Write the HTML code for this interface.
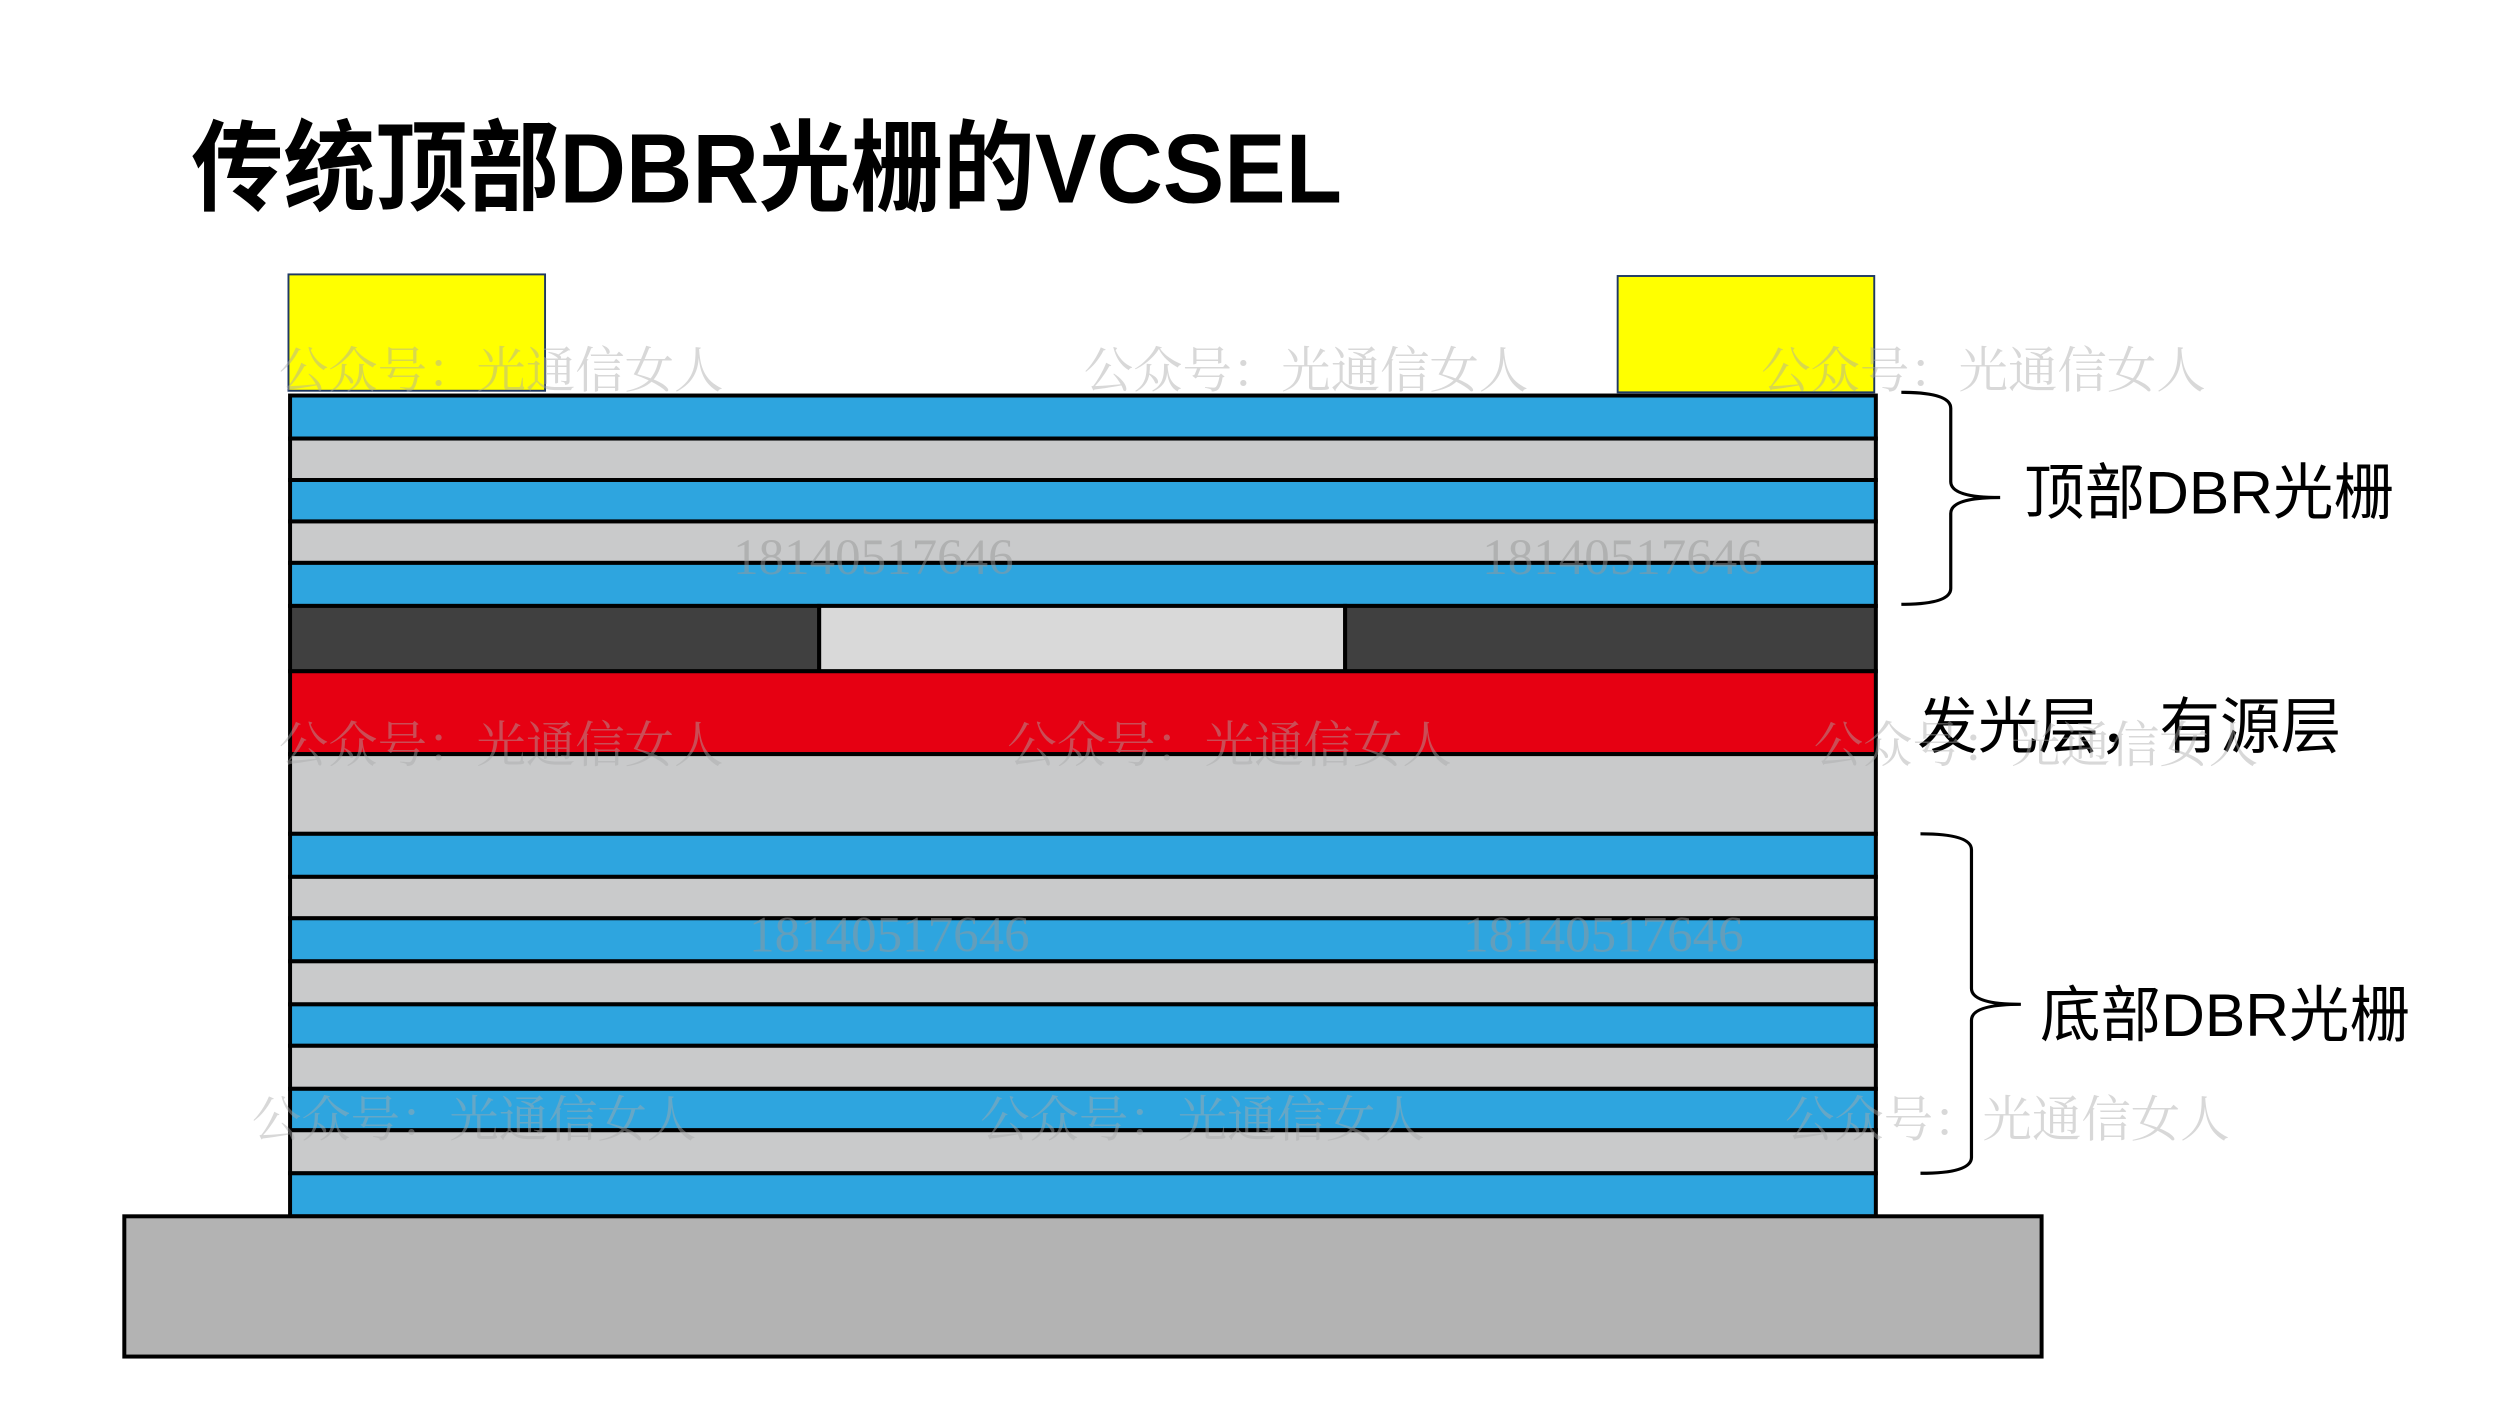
<!DOCTYPE html>
<html><head><meta charset="utf-8"><style>
html,body{margin:0;padding:0;background:#fff;}
svg{display:block;}
</style></head><body>
<svg width="2500" height="1406" viewBox="0 0 1560 877" xmlns="http://www.w3.org/2000/svg">
<rect width="1560" height="877" fill="#fff"/>
<g transform="scale(0.9945)">
<text x="120" y="127" font-family="'Liberation Sans','Noto Sans CJK SC',sans-serif" font-weight="bold" font-size="62" textLength="722" lengthAdjust="spacingAndGlyphs" fill="#000">传统顶部DBR光栅的VCSEL</text>
<g stroke="#1f3864" stroke-width="1.2" fill="#ffff00">
<rect x="181" y="172" width="161" height="73"/>
<rect x="1015" y="173" width="161" height="73"/>
</g>
<g stroke="#000" stroke-width="2.5">
<rect x="182" y="248" width="995" height="27" fill="#2ea5df"/>
<rect x="182" y="275" width="995" height="26" fill="#c9cacb"/>
<rect x="182" y="301" width="995" height="26" fill="#2ea5df"/>
<rect x="182" y="327" width="995" height="26" fill="#c9cacb"/>
<rect x="182" y="353" width="995" height="27" fill="#2ea5df"/>
<rect x="182" y="380" width="332" height="41" fill="#404040"/>
<rect x="514" y="380" width="330" height="41" fill="#d9d9d9"/>
<rect x="844" y="380" width="333" height="41" fill="#404040"/>
<rect x="182" y="421" width="995" height="52" fill="#e60012"/>
<rect x="182" y="473" width="995" height="50" fill="#c9cacb"/>
<rect x="182" y="523" width="995" height="27" fill="#2ea5df"/>
<rect x="182" y="550" width="995" height="26" fill="#c9cacb"/>
<rect x="182" y="576" width="995" height="27" fill="#2ea5df"/>
<rect x="182" y="603" width="995" height="27" fill="#c9cacb"/>
<rect x="182" y="630" width="995" height="26" fill="#2ea5df"/>
<rect x="182" y="656" width="995" height="27" fill="#c9cacb"/>
<rect x="182" y="683" width="995" height="26" fill="#2ea5df"/>
<rect x="182" y="709" width="995" height="27" fill="#c9cacb"/>
<rect x="182" y="736" width="995" height="27" fill="#2ea5df"/>
<rect x="78" y="763" width="1203" height="88" fill="#b3b3b3"/>
</g>
<g fill="none" stroke="#000" stroke-width="2">
<path d="M1193,246 Q1224,246 1224,256 L1224,302 Q1224,312 1255,312 Q1224,312 1224,322 L1224,369 Q1224,379 1193,379"/>
<path d="M1205,523 Q1237,523 1237,533 L1237,620 Q1237,630 1268,630 Q1237,630 1237,640 L1237,726 Q1237,736 1205,736"/>
</g>
<g font-family="'Liberation Sans','Noto Sans CJK SC',sans-serif" font-size="38" fill="#000">
<text x="1270" y="322">顶部DBR光栅</text>
<text x="1203" y="469">发光层，有源层</text>
<text x="1280" y="650">底部DBR光栅</text>
</g>
<g font-family="'Noto Serif CJK SC','Liberation Serif',serif" font-size="31" fill="#aaa" opacity="0.45">
<text x="175" y="243">公众号：光通信女人</text>
<text x="680" y="243">公众号：光通信女人</text>
<text x="1105" y="243">公众号：光通信女人</text>
<text x="175" y="478">公众号：光通信女人</text>
<text x="632" y="478">公众号：光通信女人</text>
<text x="1138" y="478">公众号：光通信女人</text>
<text x="158" y="713">公众号：光通信女人</text>
<text x="615" y="713">公众号：光通信女人</text>
<text x="1120" y="713">公众号：光通信女人</text>
</g>
<g font-family="'Liberation Serif',serif" font-size="32" fill="#999" opacity="0.5">
<text x="460" y="360">18140517646</text>
<text x="930" y="360">18140517646</text>
<text x="470" y="597">18140517646</text>
<text x="918" y="597">18140517646</text>
</g>
</g>
</svg>
</body></html>
